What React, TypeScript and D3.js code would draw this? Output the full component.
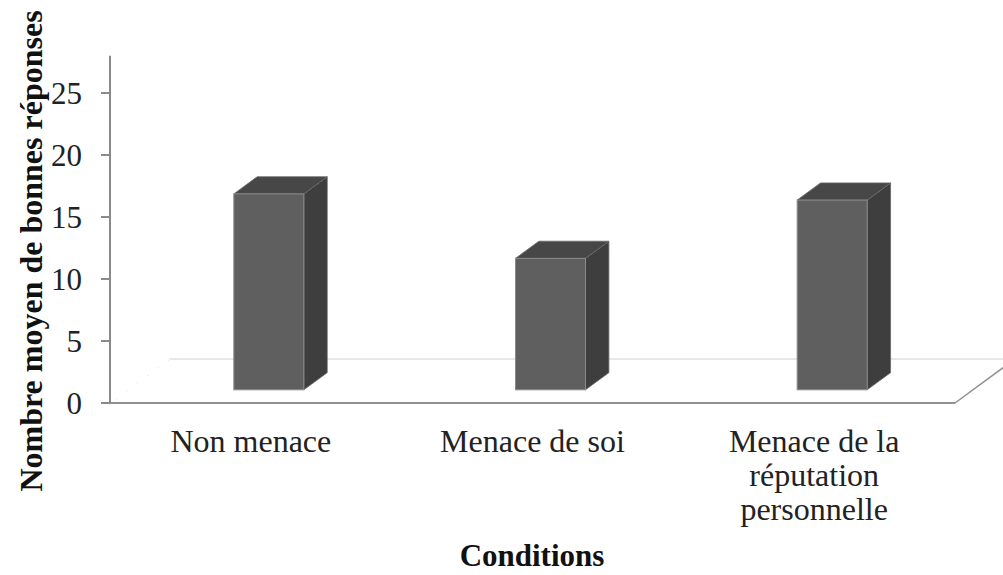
import * as d3 from "d3";

const categories = ["Non menace", "Menace de soi", "Menace de la réputation personnelle"];
const labelLines = [["Non menace"], ["Menace de soi"], ["Menace de la", "réputation", "personnelle"]];
const values = [15.8, 10.6, 15.3];
const yTicks = [0, 5, 10, 15, 20, 25];

const W = 1003;
const H = 575;
const LEFT = 110;
const RIGHT = 955;
const BASE = 403;
const DEPTH = { x: 60, y: -44 };
const BAR_FRONT = 0.3;
const BAR_DEPTH = 0.39;
const BAR_W = 70;
const FONT = "'Liberation Serif', 'Times New Roman', serif";

export default function App() {
  const x = d3.scaleBand().domain(categories).range([LEFT, RIGHT]);
  const y = d3.scaleLinear().domain([0, 28]).range([BASE, BASE - 28 * 12.4]);

  const fx = BAR_FRONT * DEPTH.x;
  const fy = BAR_FRONT * DEPTH.y;
  const dx = BAR_DEPTH * DEPTH.x;
  const dy = BAR_DEPTH * DEPTH.y;

  const bars = categories.map((c, i) => {
    const cx = (x(c) ?? 0) + x.bandwidth() / 2 + fx;
    const x0 = cx - BAR_W / 2;
    const x1 = cx + BAR_W / 2;
    const yb = y(0) + fy;
    const yt = y(values[i]) + fy;
    const top = `M${x0},${yt}L${x0 + dx},${yt + dy}L${x1 + dx},${yt + dy}L${x1},${yt}Z`;
    const side = `M${x1},${yt}L${x1 + dx},${yt + dy}L${x1 + dx},${yb + dy}L${x1},${yb}Z`;
    return (
      <g key={c}>
        <path d={side} fill="#3e3e3e" stroke="#6a6a6a" strokeWidth={0.8} />
        <path d={top} fill="#474747" stroke="#6a6a6a" strokeWidth={0.8} />
        <rect x={x0} y={yt} width={BAR_W} height={yb - yt} fill="#5f5f5f" stroke="#8a8a8a" strokeWidth={1} />
      </g>
    );
  });

  return (
    <svg width={W} height={H} style={{ position: "absolute", left: 0, top: 0, background: "#fff" }}>
      {/* floor */}
      <line x1={LEFT + DEPTH.x} y1={BASE + DEPTH.y} x2={RIGHT + DEPTH.x} y2={BASE + DEPTH.y} stroke="#d0d0d0" strokeWidth={1} />
      <line x1={LEFT + 6} y1={BASE - 4} x2={LEFT + DEPTH.x} y2={BASE + DEPTH.y} stroke="#d8d8d8" strokeWidth={1} strokeDasharray="1,12" />
      <line x1={RIGHT} y1={BASE} x2={RIGHT + DEPTH.x} y2={BASE + DEPTH.y} stroke="#909090" strokeWidth={1.5} />
      <line x1={LEFT} y1={BASE} x2={RIGHT} y2={BASE} stroke="#909090" strokeWidth={2} />
      {bars}
      {/* y axis */}
      <line x1={LEFT} y1={y(28)} x2={LEFT} y2={BASE} stroke="#8a8a8a" strokeWidth={2} />
      {yTicks.map((t) => (
        <g key={t}>
          <line x1={LEFT - 9} x2={LEFT} y1={y(t)} y2={y(t)} stroke="#8a8a8a" strokeWidth={2} />
          <text x={82} y={y(t)} dy="0.35em" textAnchor="end" fontFamily={FONT} fontSize={31} fill="#222">
            {t}
          </text>
        </g>
      ))}
      {/* category labels */}
      {categories.map((c, i) => (
        <text key={c} x={(x(c) ?? 0) + x.bandwidth() / 2} y={452} textAnchor="middle" fontFamily={FONT} fontSize={32} fill="#222">
          {labelLines[i].map((l, j) => (
            <tspan key={j} x={(x(c) ?? 0) + x.bandwidth() / 2} dy={j === 0 ? 0 : 34}>
              {l}
            </tspan>
          ))}
        </text>
      ))}
      <text x={532} y={566} textAnchor="middle" fontFamily={FONT} fontSize={31} fontWeight="bold" fill="#111">
        Conditions
      </text>
      <text transform="translate(42,251) rotate(-90)" textAnchor="middle" fontFamily={FONT} fontSize={32} fontWeight="bold" fill="#111">
        Nombre moyen de bonnes réponses
      </text>
    </svg>
  );
}
